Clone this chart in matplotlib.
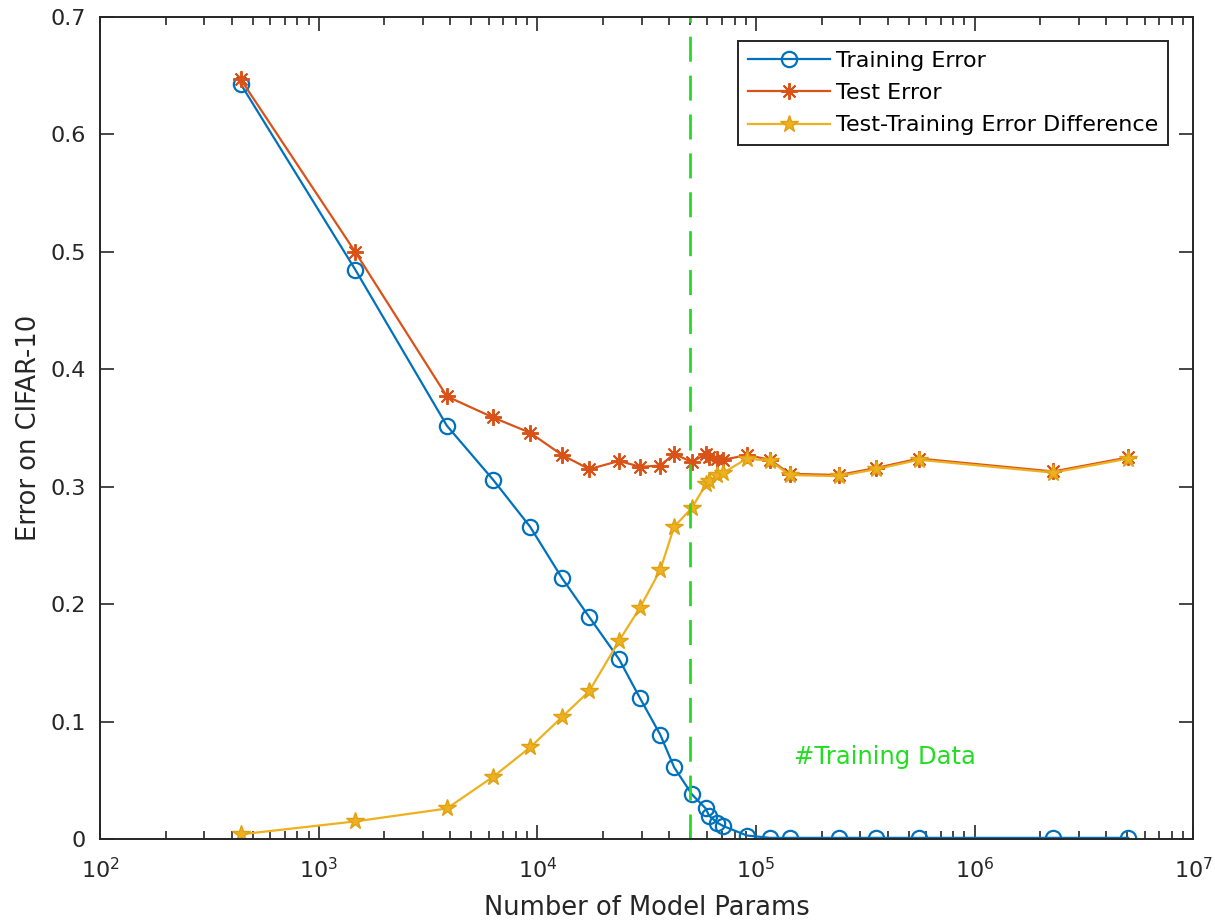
import matplotlib
matplotlib.use('Agg')
import matplotlib.pyplot as plt
import numpy as np
from matplotlib.ticker import LogLocator, FixedLocator

plt.rcParams['font.family'] = ['DejaVu Sans']

# number of model params (log axis)
params = [440, 1470, 3860, 6280, 9270, 13000, 17300, 23700, 29500, 36500,
          42300, 51000, 59000, 61000, 66500, 71000, 91000, 116000, 143000,
          240000, 355000, 558000, 2290000, 5050000]
train_err = [0.643, 0.485, 0.352, 0.306, 0.266, 0.222, 0.189, 0.153, 0.120, 0.089,
             0.061, 0.038, 0.026, 0.020, 0.014, 0.011, 0.003, 0.001, 0.001,
             0.001, 0.001, 0.001, 0.001, 0.001]
test_err = [0.647, 0.500, 0.377, 0.359, 0.346, 0.327, 0.315, 0.322, 0.317, 0.318,
            0.328, 0.321, 0.328, 0.325, 0.324, 0.323, 0.327, 0.323, 0.311,
            0.310, 0.316, 0.324, 0.313, 0.325]
diff_err = [0.004, 0.015, 0.026, 0.053, 0.078, 0.104, 0.126, 0.169, 0.197, 0.229,
            0.266, 0.282, 0.302, 0.305, 0.310, 0.312, 0.324, 0.322, 0.310,
            0.309, 0.315, 0.323, 0.312, 0.324]
n_train = 50000

blue = '#0072BD'
orange = '#D95319'
yellow = '#EDB120'
green = '#22DD22'

fig = plt.figure(figsize=(12.15, 9.21), dpi=100)
ax = fig.add_axes([0.0823, 0.089, 0.8997, 0.8925])

ax.plot(params, train_err, color=blue, lw=1.6, marker='o', ms=11, mfc='none',
        mew=1.6, label='Training Error')
ax.plot(params, test_err, color=orange, lw=1.6, marker=(8, 2, 0), ms=12,
        mew=1.4, label='Test Error')
ax.plot(params, diff_err, color=yellow, lw=1.6, marker='*', ms=13, mfc=yellow,
        mec='#E0A010', mew=1.0, label='Test-Training Error Difference')

ax.axvline(n_train, color=green, lw=2, ls=(0, (9, 5)))
ax.text(1.5e5, 0.07, '#Training Data', color=green, fontsize=17.5, va='center')

ax.set_xscale('log')
ax.set_xlim(1e2, 1e7)
ax.set_ylim(0, 0.7)
ax.xaxis.set_major_locator(LogLocator(base=10, numticks=10))
ax.xaxis.set_minor_locator(LogLocator(base=10, subs=np.arange(2, 10), numticks=20))
ax.yaxis.set_major_locator(FixedLocator([0, 0.1, 0.2, 0.3, 0.4, 0.5, 0.6, 0.7]))
ax.set_yticklabels(['0', '0.1', '0.2', '0.3', '0.4', '0.5', '0.6', '0.7'])

ax.tick_params(which='both', direction='in', top=True, right=True, labelsize=16,
               colors='#262626', width=1.2)
ax.tick_params(which='major', length=10)
ax.tick_params(which='minor', length=6)
ax.tick_params(axis='x', pad=13)
ax.tick_params(axis='y', pad=10)
for s in ax.spines.values():
    s.set_linewidth(1.4)
    s.set_color('#262626')

ax.set_xlabel('Number of Model Params', fontsize=18.5, color='#262626', labelpad=9)
ax.set_ylabel('Error on CIFAR-10', fontsize=18.5, color='#262626', labelpad=6)

leg = ax.legend(loc='upper right', bbox_to_anchor=(0.977, 0.971), fontsize=16,
                fancybox=False, edgecolor='#262626', framealpha=1,
                markerscale=1.0, handlelength=3.7, numpoints=1, borderpad=0.45,
                labelspacing=0.55, handletextpad=0.25, borderaxespad=0)
leg.get_frame().set_linewidth(1.4)

fig.savefig('out.png', dpi=100)
